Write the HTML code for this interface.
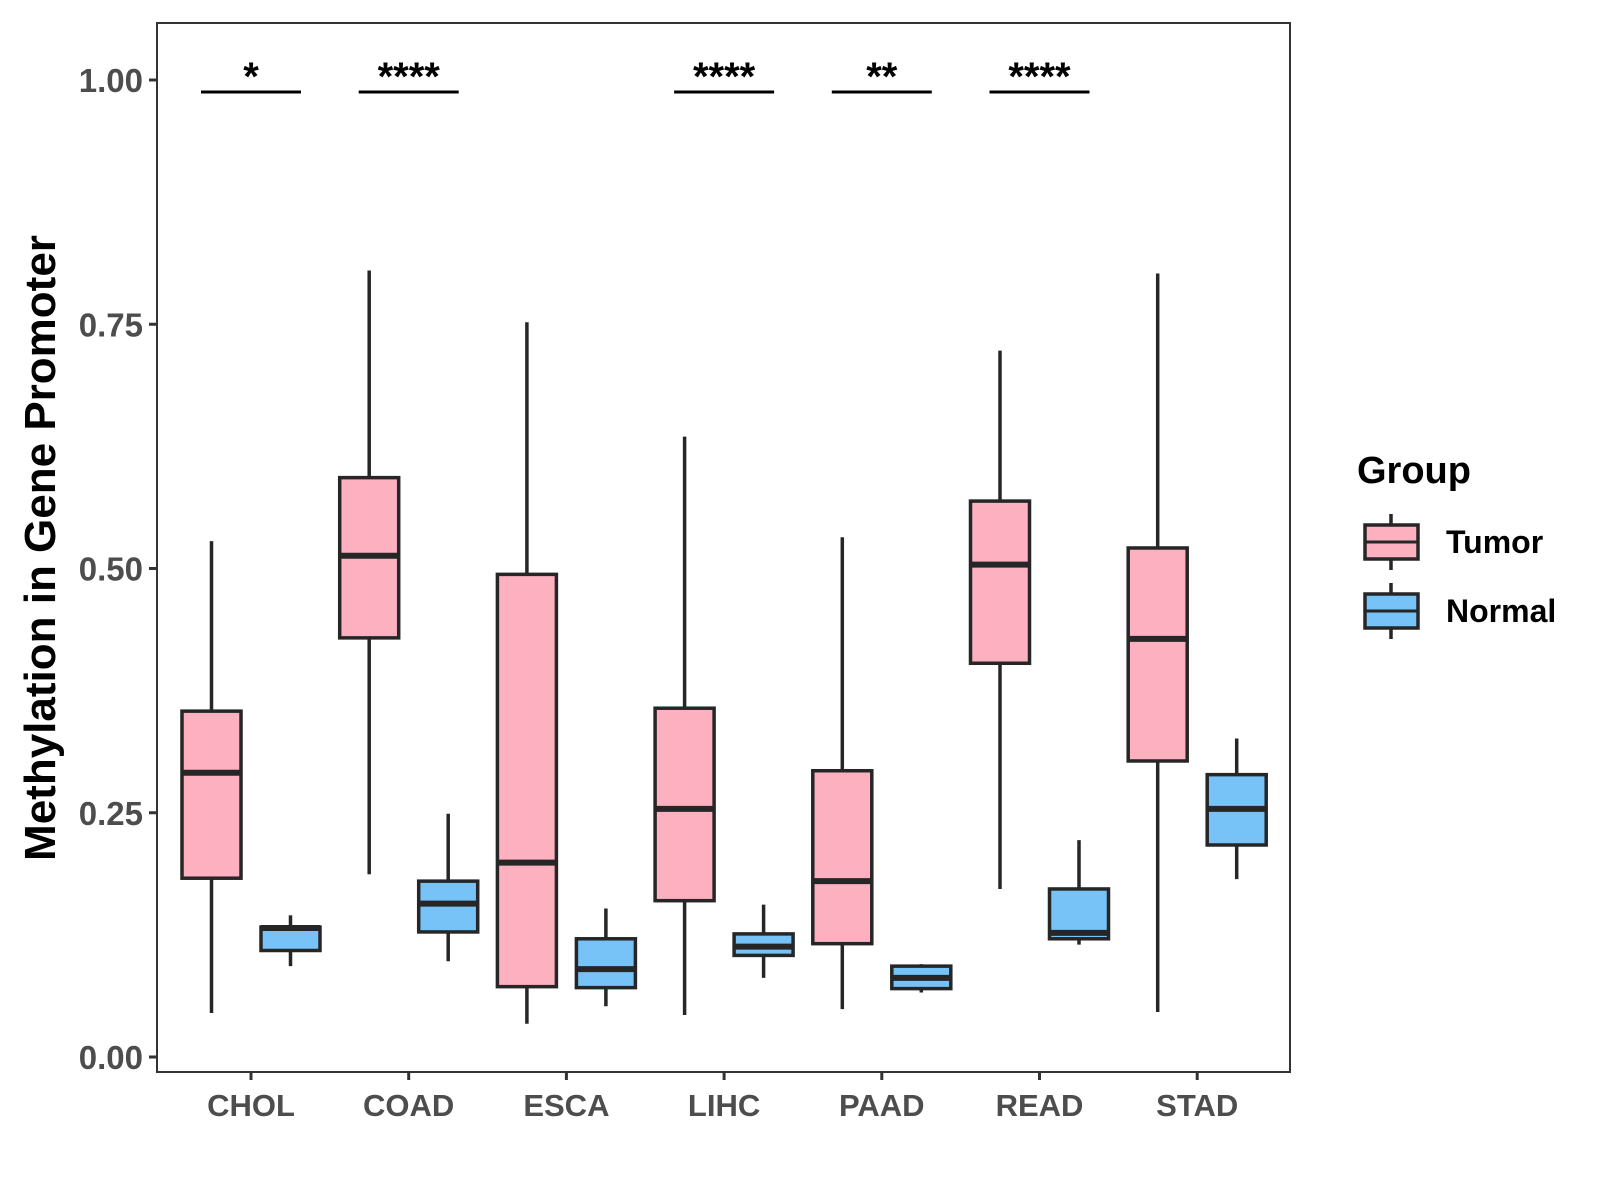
<!DOCTYPE html>
<html><head><meta charset="utf-8"><style>body{margin:0;background:#fff}svg{display:block}text{font-family:"Liberation Sans",Arial,sans-serif;font-weight:bold}</style></head>
<body>
<svg id="chart" width="1600" height="1200" viewBox="0 0 1600 1200" xmlns="http://www.w3.org/2000/svg"></svg>
<script>
const categories=["CHOL","COAD","ESCA","LIHC","PAAD","READ","STAD"];
// [low, Q1, median, Q3, high]
const tumorStats=[[0.045,0.183,0.291,0.354,0.528],[0.187,0.429,0.513,0.593,0.805],[0.034,0.072,0.199,0.494,0.752],[0.043,0.160,0.254,0.357,0.635],[0.049,0.116,0.180,0.293,0.532],[0.172,0.403,0.504,0.569,0.723],[0.046,0.303,0.428,0.521,0.802]];
const normalStats=[[0.093,0.109,0.132,0.133,0.145],[0.098,0.128,0.157,0.180,0.249],[0.052,0.071,0.090,0.121,0.152],[0.081,0.104,0.113,0.126,0.156],[0.066,0.070,0.081,0.093,0.095],[0.115,0.121,0.127,0.172,0.222],[0.182,0.217,0.254,0.289,0.326]];
const sigLabels=["*","****","","****","**","****",""];
const yTicks=[0,0.25,0.5,0.75,1.0];
const yTickLabels=["0.00","0.25","0.50","0.75","1.00"];

const svg=document.getElementById('chart');
const NS="http://www.w3.org/2000/svg";
const L=157,R=1290,T=23,B=1072;
const y=v=>1057-v*977;
const x=i=>251+i*157.7;
function mk(tag,attrs,name,parent){const e=document.createElementNS(NS,tag);for(const k in attrs)e.setAttribute(k,attrs[k]);


(parent||svg).appendChild(e);return e;}
mk('rect',{x:L,y:T,width:R-L,height:B-T,fill:'#fff',stroke:'#333','stroke-width':2},'plot-panel');
yTicks.forEach((t,i)=>{
 mk('line',{x1:L-8,x2:L,y1:y(t),y2:y(t),stroke:'#333','stroke-width':3},'y-tick');
 const tx=mk('text',{x:L-14,y:y(t)+12,'text-anchor':'end','font-size':33,fill:'#4d4d4d'},'y-tick-label');tx.textContent=yTickLabels[i];
});
categories.forEach((c,i)=>{
 mk('line',{x1:x(i),x2:x(i),y1:B,y2:B+8,stroke:'#333','stroke-width':3},'x-tick');
 const tx=mk('text',{x:x(i),y:B+44,'text-anchor':'middle','font-size':31,fill:'#4d4d4d'},'x-tick-label');tx.textContent=c;
});
function box(cx,s,fill,name){
 const g=mk('g',{},name);const w=59;
 mk('line',{x1:cx,x2:cx,y1:y(s[0]),y2:y(s[4]),stroke:'#262626','stroke-width':3.5},'whisker',g);
 mk('rect',{x:cx-w/2,y:y(s[3]),width:w,height:y(s[1])-y(s[3]),fill:fill,stroke:'#262626','stroke-width':3.5},'box',g);
 mk('line',{x1:cx-w/2,x2:cx+w/2,y1:y(s[2]),y2:y(s[2]),stroke:'#262626','stroke-width':6},'median',g);
}
categories.forEach((c,i)=>{
 box(x(i)-39.5,tumorStats[i],'#FDB0C0','box-tumor-'+c.toLowerCase());
 box(x(i)+39.5,normalStats[i],'#77C2F7','box-normal-'+c.toLowerCase());
 if(sigLabels[i]){
  mk('line',{x1:x(i)-50,x2:x(i)+50,y1:92,y2:92,stroke:'#000','stroke-width':3},'significance-bar');
  const tx=mk('text',{x:x(i),y:90,'text-anchor':'middle','font-size':40,fill:'#000'},'significance-label');tx.textContent=sigLabels[i];
 }
});
const yt=mk('text',{x:0,y:0,transform:'translate(55,548) rotate(-90)','text-anchor':'middle','font-size':44,fill:'#000'},'y-axis-title');yt.textContent='Methylation in Gene Promoter';
const lg=mk('g',{},'legend');
const lt=mk('text',{x:1357,y:483,'font-size':38,fill:'#000'},'legend-title',lg);lt.textContent='Group';
[['Tumor','#FDB0C0',542],['Normal','#77C2F7',611]].forEach(([n,f,cy])=>{
 const e=mk('g',{},'legend-entry-'+n.toLowerCase(),lg);
 mk('line',{x1:1391,x2:1391,y1:cy-28,y2:cy+28,stroke:'#262626','stroke-width':3.5},'legend-whisker',e);
 mk('rect',{x:1365,y:cy-17,width:53,height:34,fill:f,stroke:'#262626','stroke-width':3.5},'legend-key',e);
 mk('line',{x1:1365,x2:1418,y1:cy,y2:cy,stroke:'#262626','stroke-width':3},'legend-median',e);
 const t=mk('text',{x:1446,y:cy+11,'font-size':32,fill:'#000'},'legend-label',e);t.textContent=n;
});
</script>
</body></html>
